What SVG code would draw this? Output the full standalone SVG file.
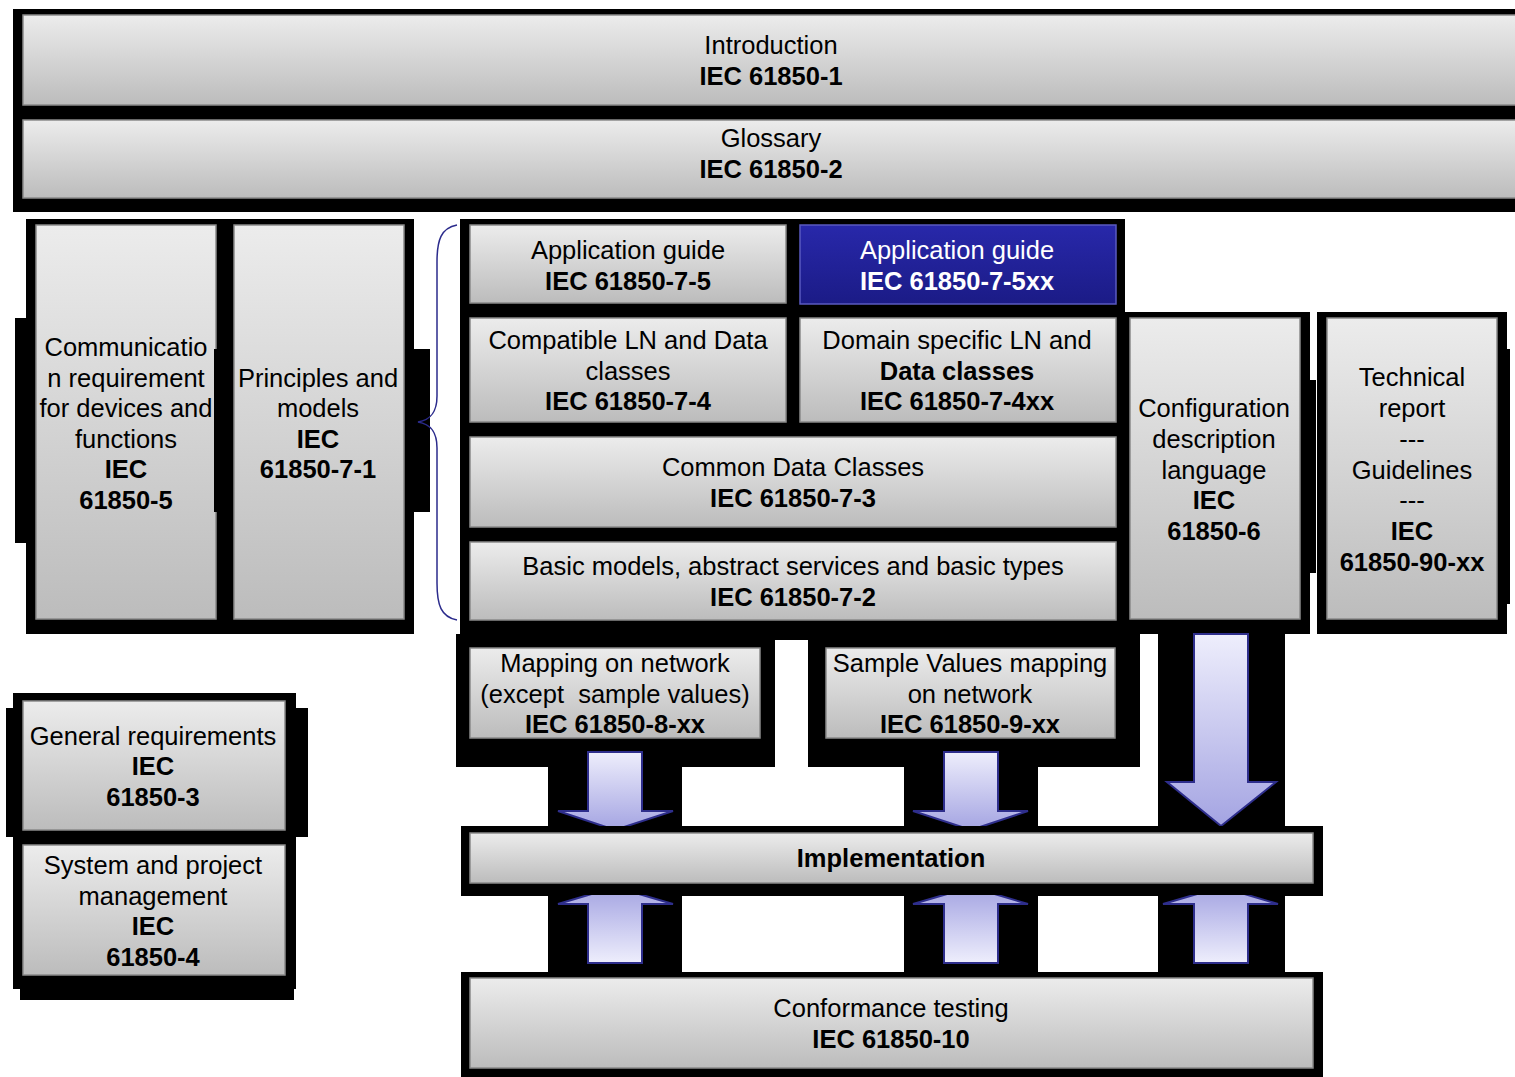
<svg xmlns="http://www.w3.org/2000/svg" width="1515" height="1077" viewBox="0 0 1515 1077">
<defs>
<linearGradient id="gray" x1="0" y1="0" x2="0" y2="1">
<stop offset="0" stop-color="#ececec"/>
<stop offset="1" stop-color="#bcbcbc"/>
</linearGradient>
<linearGradient id="blue" x1="0" y1="0" x2="0" y2="1">
<stop offset="0" stop-color="#2828aa"/>
<stop offset="1" stop-color="#1b1b86"/>
</linearGradient>
<linearGradient id="arrDown" x1="0" y1="0" x2="0" y2="1">
<stop offset="0" stop-color="#eeeefc"/>
<stop offset="1" stop-color="#a4a4e2"/>
</linearGradient>
<linearGradient id="arrUp" x1="0" y1="1" x2="0" y2="0">
<stop offset="0" stop-color="#eeeefc"/>
<stop offset="1" stop-color="#a4a4e2"/>
</linearGradient>
<clipPath id="arrClip">
<rect x="0" y="0" width="1515" height="826"/>
<rect x="0" y="895" width="1515" height="182"/>
</clipPath>
</defs>
<style>
.bg{fill:#000}
.box{fill:url(#gray);stroke:#8a8a8a;stroke-width:1.5}
.bbox{fill:url(#blue);stroke:#5a5ac0;stroke-width:1.5}
text{font-family:"Liberation Sans",Arial,sans-serif;font-size:25.5px;fill:#000;text-anchor:middle}
.b{font-weight:bold}
.w{fill:#fff}
.ad{fill:url(#arrDown);stroke:#2e2e8c;stroke-width:2}
.au{fill:url(#arrUp);stroke:#2e2e8c;stroke-width:2}
.brace{fill:none;stroke:#2b2b8c;stroke-width:1.5}
</style>
<rect width="1515" height="1077" fill="#fff"/>

<g id="shadows">
<rect class="bg" x="13" y="9" width="1502" height="203"/>
<rect class="bg" x="26" y="219" width="388" height="415"/>
<rect class="bg" x="15" y="318" width="11" height="225"/>
<rect class="bg" x="414" y="349" width="16" height="163"/>
<rect class="bg" x="460" y="219" width="665" height="421"/>
<rect class="bg" x="1125" y="312" width="185" height="322"/>
<rect class="bg" x="1310" y="380" width="6" height="193"/>
<rect class="bg" x="1317" y="312" width="190" height="322"/>
<rect class="bg" x="1507" y="349" width="3" height="255"/>
<rect class="bg" x="456" y="634" width="319" height="133"/>
<rect class="bg" x="808" y="634" width="332" height="133"/>
<rect class="bg" x="548" y="767" width="134" height="60"/>
<rect class="bg" x="904" y="767" width="134" height="60"/>
<rect class="bg" x="1158" y="634" width="127" height="193"/>
<rect class="bg" x="461" y="826" width="862" height="70"/>
<rect class="bg" x="548" y="895" width="134" height="78"/>
<rect class="bg" x="904" y="895" width="134" height="78"/>
<rect class="bg" x="1158" y="895" width="127" height="78"/>
<rect class="bg" x="461" y="972" width="862" height="105"/>
<rect class="bg" x="13" y="693" width="283" height="296"/>
<rect class="bg" x="6" y="708" width="7" height="129"/>
<rect class="bg" x="296" y="708" width="12" height="129"/>
<rect class="bg" x="20" y="989" width="274" height="11"/>
</g>

<g id="connectors" clip-path="url(#arrClip)">
<path class="brace" d="M457,225 C441,228 437,240 437,262 L437,396 C437,413 430,420 418,422 C430,424 437,431 437,448 L437,583 C437,605 441,617 457,620"/>
<polygon class="ad" points="588,752 642,752 642,811 673,811 615,830 558,811 588,811"/>
<polygon class="ad" points="944,752 998,752 998,811 1028,811 971,830 913,811 944,811"/>
<polygon class="ad" points="1194,634 1248,634 1248,782 1276,782 1221,826 1167,782 1194,782"/>
<polygon class="au" points="588,963 642,963 642,904 673,904 615,887 558,904 588,904"/>
<polygon class="au" points="944,963 998,963 998,904 1028,904 971,887 913,904 944,904"/>
<polygon class="au" points="1194,963 1248,963 1248,904 1278,904 1221,887 1163,904 1194,904"/>
</g>

<g id="introduction">
<rect class="box" x="23" y="15" width="1500" height="90"/>
<text x="771" y="54">Introduction</text>
<text class="b" x="771" y="85">IEC 61850-1</text>
</g>
<g id="glossary">
<rect class="box" x="23" y="120" width="1500" height="78"/>
<text x="771" y="147">Glossary</text>
<text class="b" x="771" y="178">IEC 61850-2</text>
</g>

<g id="communication">
<rect class="box" x="36" y="225" width="180" height="394"/>
<rect class="bg" x="214" y="349" width="4" height="163"/>
<text x="126" y="356">Communicatio</text>
<text x="126" y="386.6">n requirement</text>
<text x="126" y="417.2">for devices and</text>
<text x="126" y="447.8">functions</text>
<text class="b" x="126" y="478.4">IEC</text>
<text class="b" x="126" y="509">61850-5</text>
</g>
<g id="principles">
<rect class="box" x="234" y="225" width="170" height="394"/>
<text x="318" y="386.6">Principles and</text>
<text x="318" y="417.2">models</text>
<text class="b" x="318" y="447.8">IEC</text>
<text class="b" x="318" y="478.4">61850-7-1</text>
</g>

<g id="appguide75">
<rect class="box" x="470" y="225" width="316" height="78"/>
<text x="628" y="259">Application guide</text>
<text class="b" x="628" y="290">IEC 61850-7-5</text>
</g>
<g id="appguide75xx">
<rect class="bbox" x="800" y="225" width="316" height="79"/>
<text class="w" x="957" y="259">Application guide</text>
<text class="b w" x="957" y="290">IEC 61850-7-5xx</text>
</g>
<g id="compatible">
<rect class="box" x="470" y="318" width="316" height="104"/>
<text x="628" y="349">Compatible LN and Data</text>
<text x="628" y="380">classes</text>
<text class="b" x="628" y="410">IEC 61850-7-4</text>
</g>
<g id="domain">
<rect class="box" x="800" y="318" width="316" height="104"/>
<text x="957" y="349">Domain specific LN and</text>
<text class="b" x="957" y="380">Data classes</text>
<text class="b" x="957" y="410">IEC 61850-7-4xx</text>
</g>
<g id="cdc">
<rect class="box" x="470" y="437" width="646" height="90"/>
<text x="793" y="476">Common Data Classes</text>
<text class="b" x="793" y="507">IEC 61850-7-3</text>
</g>
<g id="basic">
<rect class="box" x="470" y="542" width="646" height="78"/>
<text x="793" y="575">Basic models, abstract services and basic types</text>
<text class="b" x="793" y="606">IEC 61850-7-2</text>
</g>
<g id="config">
<rect class="box" x="1130" y="318" width="170" height="301"/>
<text x="1214" y="417">Configuration</text>
<text x="1214" y="448">description</text>
<text x="1214" y="479">language</text>
<text class="b" x="1214" y="509">IEC</text>
<text class="b" x="1214" y="540">61850-6</text>
</g>
<g id="technical">
<rect class="box" x="1327" y="318" width="170" height="301"/>
<text x="1412" y="386">Technical</text>
<text x="1412" y="417">report</text>
<text x="1412" y="448">---</text>
<text x="1412" y="479">Guidelines</text>
<text x="1412" y="509">---</text>
<text class="b" x="1412" y="540">IEC</text>
<text class="b" x="1412" y="571">61850-90-xx</text>
</g>
<g id="mapping">
<rect class="box" x="470" y="648" width="290" height="90"/>
<text x="615" y="672">Mapping on network</text>
<text x="615" y="703" style="white-space:pre">(except  sample values)</text>
<text class="b" x="615" y="733">IEC 61850-8-xx</text>
</g>
<g id="sampled">
<rect class="box" x="826" y="648" width="289" height="90"/>
<text x="970" y="672">Sample Values mapping</text>
<text x="970" y="703">on network</text>
<text class="b" x="970" y="733">IEC 61850-9-xx</text>
</g>
<g id="implementation">
<rect class="box" x="470" y="833" width="843" height="50"/>
<text class="b" x="891" y="867">Implementation</text>
</g>
<g id="conformance">
<rect class="box" x="470" y="978" width="843" height="90"/>
<text x="891" y="1017">Conformance testing</text>
<text class="b" x="891" y="1048">IEC 61850-10</text>
</g>
<g id="general">
<rect class="box" x="23" y="701" width="262" height="129"/>
<text x="153" y="745">General requirements</text>
<text class="b" x="153" y="775">IEC</text>
<text class="b" x="153" y="806">61850-3</text>
</g>
<g id="system">
<rect class="box" x="23" y="845" width="262" height="130"/>
<text x="153" y="874">System and project</text>
<text x="153" y="905">management</text>
<text class="b" x="153" y="935">IEC</text>
<text class="b" x="153" y="966">61850-4</text>
</g>
</svg>
